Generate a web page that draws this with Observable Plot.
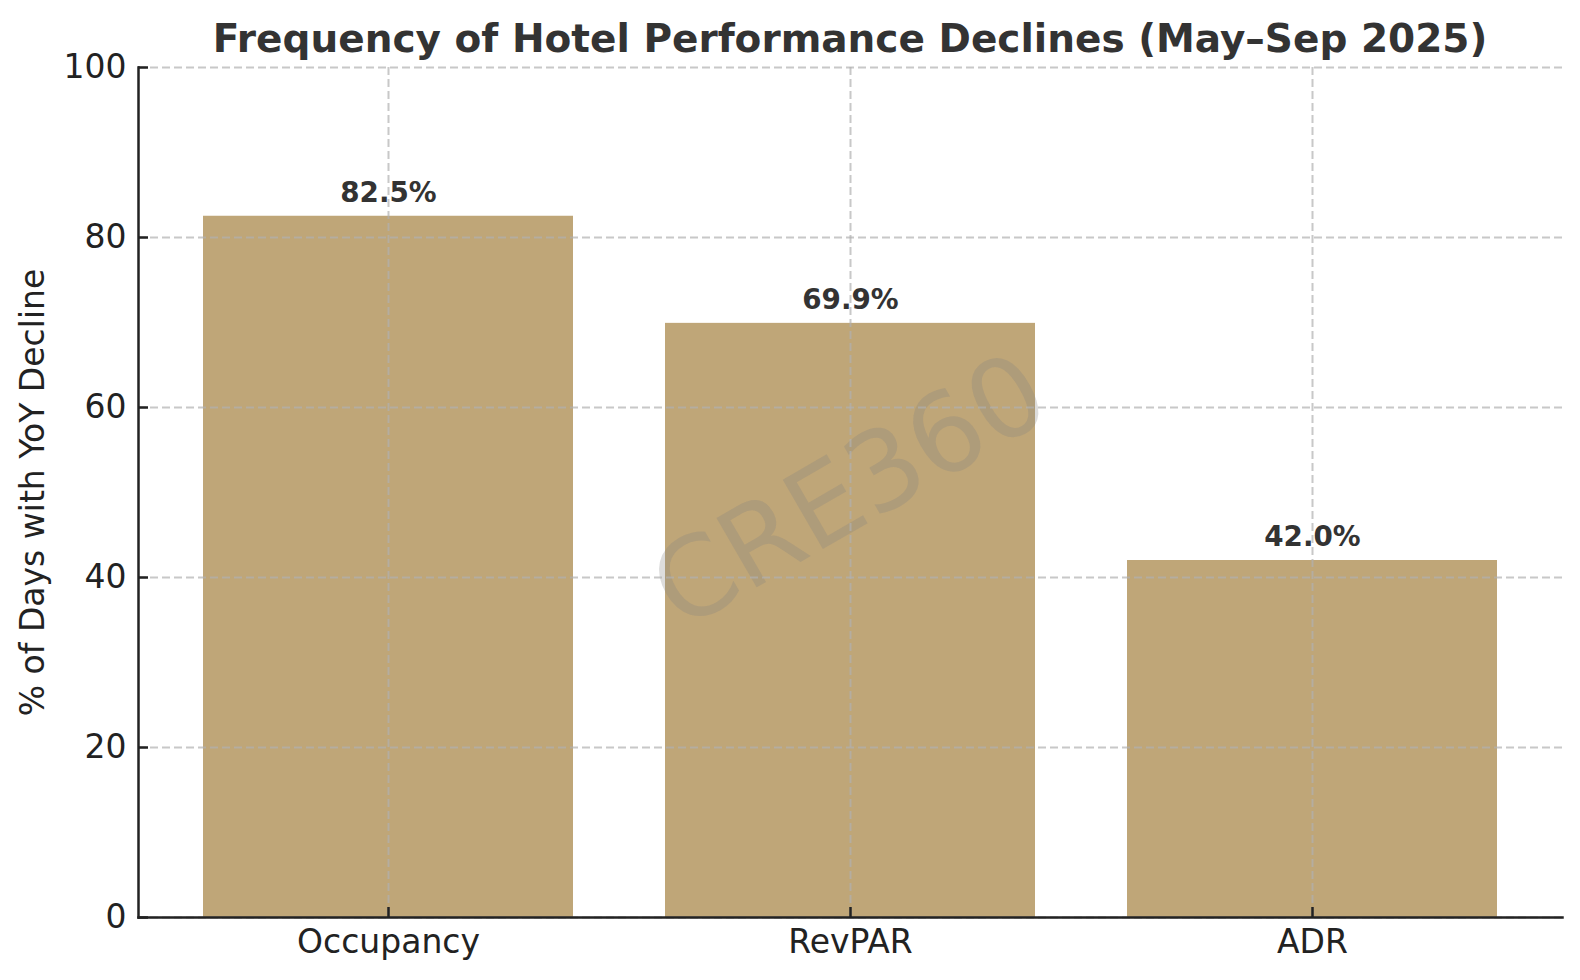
<!DOCTYPE html>
<html>
<head>
<meta charset="utf-8">
<script src="https://cdn.jsdelivr.net/npm/d3@7"></script>
<script src="https://cdn.jsdelivr.net/npm/@observablehq/plot@0.6"></script>
<style>
  html, body { margin: 0; padding: 0; background: #ffffff; }
  #wrap { position: relative; width: 1580px; height: 980px; }
  #title {
    position: absolute; left: 138px; width: 1424px; top: 19px;
    text-align: center; font-family: "DejaVu Sans", sans-serif; font-weight: bold;
    font-size: 39px; line-height: 39px; color: #333333; white-space: nowrap; z-index: 2;
  }
  #chart { position: absolute; left: 0; top: 0; }
</style>
</head>
<body>
<div id="wrap">
  <div id="title">Frequency of Hotel Performance Declines (May–Sep 2025)</div>
  <div id="chart"></div>
</div>
<script>
const categories = ["Occupancy", "RevPAR", "ADR"];
const values = [82.5, 69.9, 42.0];
const yTicks = [0, 20, 40, 60, 80, 100];
const yLabel = ["% of Days with YoY Decline"];
const watermark = ["CRE360"];

const data = categories.map((c, i) => ({category: c, value: values[i]}));

const gridStyle = {stroke: "#b0b0b0", strokeOpacity: 0.7, strokeWidth: 2, strokeDasharray: "8,4"};

const chart = Plot.plot({
  width: 1580,
  height: 980,
  marginLeft: 138,
  marginRight: 18,
  marginTop: 67,
  marginBottom: 63,
  style: {fontFamily: "DejaVu Sans, sans-serif", background: "transparent", overflow: "visible"},
  x: {type: "band", domain: categories, paddingInner: 0.2, paddingOuter: 0.141, align: 0.5, label: null},
  y: {domain: [0, 100], label: null},
  marks: [
    Plot.barY(data, {x: "category", y: "value", fill: "#bfa678"}),
    Plot.text(watermark, {text: d => d, frameAnchor: "middle", rotate: -30, fontSize: 110, fill: "#808080", fillOpacity: 0.27}),
    Plot.gridY(yTicks, gridStyle),
    Plot.gridX(categories, gridStyle),
    Plot.frame({anchor: "left", stroke: "#222222", strokeWidth: 2.5}),
    Plot.frame({anchor: "bottom", stroke: "#222222", strokeWidth: 2.5}),
    Plot.axisY(yTicks, {text: null, tickSize: -10, stroke: "#222222", strokeWidth: 2.5}),
    Plot.axisY(yTicks, {tickSize: 0, tickPadding: 12, fontSize: 33, fill: "#222222", label: null}),
    Plot.axisX(categories, {text: null, tickSize: -10, stroke: "#222222", strokeWidth: 2.5}),
    Plot.axisX(categories, {tickSize: 0, tickPadding: 12, fontSize: 33, fill: "#222222", label: null}),
    Plot.text(yLabel, {text: d => d, frameAnchor: "left", textAnchor: "middle", lineAnchor: "middle", dx: -105, rotate: -90, fontSize: 33, fill: "#222222"}),
    Plot.text(data, {x: "category", y: "value", text: d => d.value.toFixed(1) + "%", lineAnchor: "bottom", dy: -14.5, fontSize: 27.8, fontWeight: "bold", fill: "#333333"})
  ]
});
document.getElementById("chart").appendChild(chart);
</script>
</body>
</html>
